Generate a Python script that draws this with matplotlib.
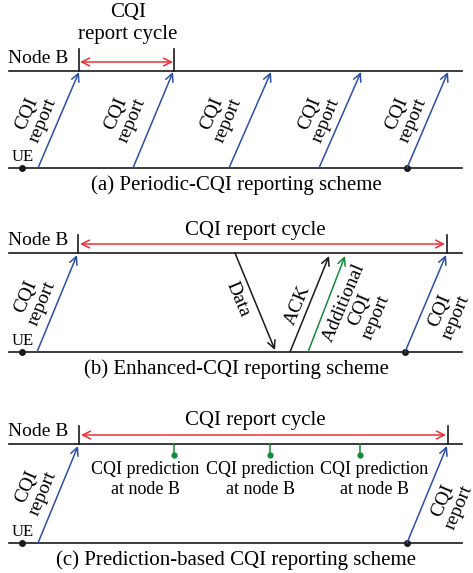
import matplotlib.pyplot as plt

plt.rcParams['font.family'] = ['Liberation Serif', 'DejaVu Serif']

# panel layout (pixel coordinates of the original figure)
node_y = [71, 253, 444]
ue_y = [168, 352, 543]
captions = ['(a) Periodic-CQI reporting scheme',
            '(b) Enhanced-CQI reporting scheme',
            '(c) Prediction-based CQI reporting scheme']

# (a) periodic CQI reports: start x on UE line, end x on Node B line
a_start = [38, 133, 229, 319, 407]
a_end = [79, 173, 271, 361, 448]
a_label_x = [35, 124, 220, 318, 405]

# (b) enhanced scheme
b_cqi_start = [37, 405]
b_cqi_end = [77, 446]
b_data = (235, 275)
b_ack = (290, 329)
b_extra = (308, 345)

# (c) prediction scheme
c_cqi_start = [38, 407]
c_cqi_end = [78, 447]
c_pred_x = [174, 270, 360]
c_pred_label_x = [145, 260, 374]

BLUE = '#2c4ea6'
RED = '#ec2f36'
GREEN = '#138a3e'
BLACK = '#1a1a1a'
FS = 14
BIG = 15
ROT = 67

fig = plt.figure(figsize=(4.73, 5.73), dpi=100)
ax = fig.add_axes([0, 0, 1, 1])
ax.set_xlim(0, 473)
ax.set_ylim(573, 0)
ax.axis('off')


def arrow(x0, y0, x1, y1, color, style='->'):
    ax.annotate('', xy=(x1, y1), xytext=(x0, y0),
                arrowprops=dict(arrowstyle=style, color=color, lw=1.1,
                                mutation_scale=14, shrinkA=0, shrinkB=0))


def rtext(x, y, s, rot=ROT, size=FS):
    ax.text(x, y, s, rotation=rot, rotation_mode='anchor', ha='center',
            va='center', fontsize=size, linespacing=1.05, multialignment='center')


for i in range(3):
    ny, uy = node_y[i], ue_y[i]
    ax.plot([9, 462], [ny, ny], color=BLACK, lw=1.2)
    ax.plot([9, 462], [uy, uy], color=BLACK, lw=1.2)
    ax.plot(22, uy, 'o', color=BLACK, ms=4)
    ax.text(8, ny - 4, 'Node B', fontsize=FS, ha='left', va='bottom')
    ax.text(12, uy - 3, 'UE', fontsize=FS - 2, ha='left', va='bottom')
    ax.text(236, uy + 17, captions[i], fontsize=BIG, ha='center', va='center')

# ---- (a)
ny, uy = node_y[0], ue_y[0]
for x in (79, 174):
    ax.plot([x, x], [ny - 22, ny], color=BLACK, lw=1.2)
arrow(80, ny - 9, 173, ny - 9, RED, '<->')
ax.text(128, 13, 'CQI', fontsize=BIG, ha='center', va='center')
ax.text(128, 35, 'report cycle', fontsize=BIG, ha='center', va='center')
for s, e, lx in zip(a_start, a_end, a_label_x):
    arrow(s, uy, e, ny + 1, BLUE)
    rtext(lx, 117, 'CQI\nreport')
ax.plot(a_start[-1], uy, 'o', color=BLACK, ms=4)

# ---- (b)
ny, uy = node_y[1], ue_y[1]
for x in (78, 447):
    ax.plot([x, x], [ny - 18, ny], color=BLACK, lw=1.2)
arrow(80, ny - 9, 445, ny - 9, RED, '<->')
ax.text(255, 230, 'CQI report cycle', fontsize=BIG, ha='center', va='center')
for s, e in zip(b_cqi_start, b_cqi_end):
    arrow(s, uy, e, ny + 2, BLUE)
ax.plot(b_cqi_start[-1], uy, 'o', color=BLACK, ms=4)
arrow(b_data[0], ny, b_data[1], uy - 2, BLACK)
arrow(b_ack[0], uy, b_ack[1], ny + 3, BLACK)
arrow(b_extra[0], uy, b_extra[1], ny + 3, GREEN)
rtext(34, 300, 'CQI\nreport')
rtext(238, 299, 'Data', rot=-ROT)
rtext(298, 305, 'ACK')
rtext(360, 310, 'Additional\nCQI\nreport')
rtext(448, 314, 'CQI\nreport')

# ---- (c)
ny, uy = node_y[2], ue_y[2]
for x in (79, 448):
    ax.plot([x, x], [ny - 18, ny], color=BLACK, lw=1.2)
arrow(81, ny - 9, 446, ny - 9, RED, '<->')
ax.text(255, 421, 'CQI report cycle', fontsize=BIG, ha='center', va='center')
for s, e in zip(c_cqi_start, c_cqi_end):
    arrow(s, uy, e, ny + 2, BLUE)
ax.plot(c_cqi_start[-1], uy, 'o', color=BLACK, ms=4)
for px, lx in zip(c_pred_x, c_pred_label_x):
    ax.plot([px, px], [ny, ny + 11], color=GREEN, lw=1.1)
    ax.plot(px, ny + 11, 'o', color=GREEN, ms=3.5)
    ax.text(lx, 469, 'CQI prediction', fontsize=FS - 1, ha='center', va='center')
    ax.text(lx, 490, 'at node B', fontsize=FS - 1, ha='center', va='center')
rtext(35, 490, 'CQI\nreport')
rtext(451, 504, 'CQI\nreport')

fig.savefig('out.png', dpi=100)
